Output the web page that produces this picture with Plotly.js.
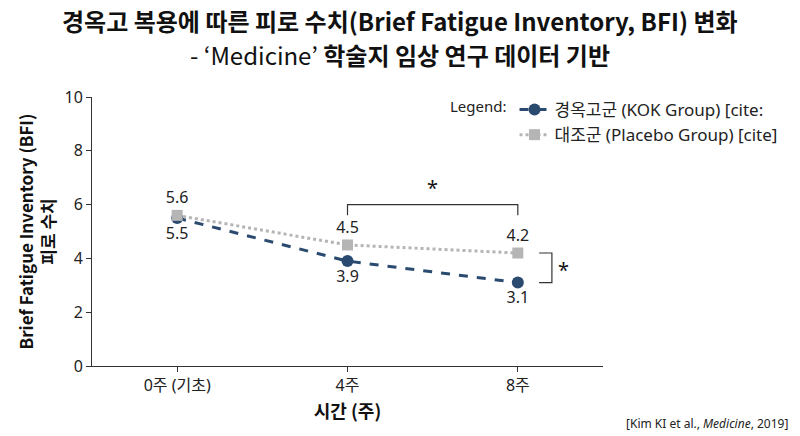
<!DOCTYPE html>
<html>
<head>
<meta charset="utf-8">
<script src="https://cdn.plot.ly/plotly-3.0.1.min.js"></script>
<style>html,body{margin:0;padding:0;background:#fff;}#chart{width:800px;height:436px;}</style>
</head>
<body>
<div id="chart"></div>
<script>
// Data
const weeks = [0, 4, 8];
const tickLabels = ['0주 (기초)', '4주', '8주'];
const kokValues = [5.5, 3.9, 3.1];
const placeboValues = [5.6, 4.5, 4.2];
const kokName = '경옥고군 (KOK Group) [cite:';
const placeboName = '대조군 (Placebo Group) [cite]';
const yTicks = [0, 2, 4, 6, 8, 10];
const titleLine1 = '<b>경옥고 복용에 따른 피로 수치(Brief Fatigue Inventory, BFI) 변화</b>';
const titleLine2 = '- ‘Medicine’<b> 학술지 임상 연구 데이터 기반</b>';
const citation = '[Kim KI et al., <i>Medicine</i>, 2019]';

const FONT = "'Noto Sans', 'Noto Sans CJK KR', sans-serif";
const KOR = "'Noto Sans CJK KR', 'Noto Sans', sans-serif";
const kokColor = '#2b4a6f';
const plaColor = '#b5b5b5';

const traces = [
  {
    x: weeks, y: kokValues, name: kokName, type: 'scatter', mode: 'lines+markers+text',
    line: {color: kokColor, width: 3, dash: 'dash'},
    marker: {color: kokColor, size: 12, symbol: 'circle'},
    text: kokValues.map(v => v.toFixed(1)), textposition: 'bottom center',
    textfont: {family: FONT, size: 16, color: '#222'},
    cliponaxis: false
  },
  {
    x: weeks, y: placeboValues, name: placeboName, type: 'scatter', mode: 'lines+markers+text',
    line: {color: plaColor, width: 3, dash: 'dot'},
    marker: {color: plaColor, size: 11, symbol: 'square'},
    text: placeboValues.map(v => v.toFixed(1)), textposition: 'top center',
    textfont: {family: FONT, size: 16, color: '#222'},
    cliponaxis: false
  }
];

// significance brackets
const topBracketY = [5.6, 6.0];
const sideBracketX = [8.5, 8.8];

const M = {l: 92, r: 197, t: 97, b: 70};
const PW = 800 - M.l - M.r, PH = 436 - M.t - M.b;
const px = X => (X - M.l) / PW;          // container px -> paper x
const py = Y => (436 - M.b - Y) / PH;    // container px -> paper y

const layout = {
  width: 800, height: 436,
  paper_bgcolor: '#fff', plot_bgcolor: '#fff',
  margin: {l: M.l, r: M.r, t: M.t, b: M.b, autoexpand: false},
  font: {family: FONT, size: 15, color: '#222'},
  xaxis: {
    range: [-2, 10], tickmode: 'array', tickvals: weeks, ticktext: tickLabels,
    showgrid: false, zeroline: false, showline: true, linecolor: '#333', linewidth: 1,
    ticks: 'outside', ticklen: 5, tickcolor: '#333',
    tickfont: {family: FONT, size: 16, color: '#222'},
    title: {text: '<b>시간 (주)</b>', font: {family: KOR, size: 18, color: '#111'}, standoff: 10}
  },
  yaxis: {
    range: [0, 10], tickmode: 'array', tickvals: yTicks,
    showgrid: false, zeroline: false, showline: true, linecolor: '#333', linewidth: 1,
    ticks: 'outside', ticklen: 5, tickcolor: '#333',
    tickfont: {family: FONT, size: 16, color: '#222'},
    title: {text: '<b>Brief Fatigue Inventory (BFI)<br>피로 수치</b>', font: {family: KOR, size: 17, color: '#111'}, standoff: 4}
  },
  showlegend: true,
  legend: {
    x: px(448), xref: 'paper', xanchor: 'left',
    y: py(92), yref: 'paper', yanchor: 'top',
    bgcolor: 'rgba(0,0,0,0)', borderwidth: 0,
    font: {family: FONT, size: 17, color: '#222'},
    title: {text: 'Legend:', side: 'left', font: {family: FONT, size: 15, color: '#222'}},
    itemwidth: 30, traceorder: 'normal'
  },
  shapes: [
    {type: 'path', xref: 'x', yref: 'y',
     path: `M ${weeks[1]},${topBracketY[0]} L ${weeks[1]},${topBracketY[1]} L ${weeks[2]},${topBracketY[1]} L ${weeks[2]},${topBracketY[0]}`,
     line: {color: '#333', width: 1.2}},
    {type: 'path', xref: 'x', yref: 'y',
     path: `M ${sideBracketX[0]},${placeboValues[2]} L ${sideBracketX[1]},${placeboValues[2]} L ${sideBracketX[1]},${kokValues[2]} L ${sideBracketX[0]},${kokValues[2]}`,
     line: {color: '#333', width: 1.2}}
  ],
  annotations: [
    {x: (weeks[1] + weeks[2]) / 2, y: topBracketY[1], xref: 'x', yref: 'y', text: '*', showarrow: false,
     yanchor: 'bottom', yshift: 2, font: {family: FONT, size: 20, color: '#111'}},
    {x: sideBracketX[1], y: (placeboValues[2] + kokValues[2]) / 2, xref: 'x', yref: 'y', text: '*', showarrow: false,
     xanchor: 'left', xshift: 4, yshift: -2, font: {family: FONT, size: 20, color: '#111'}},
    {x: px(790), y: py(423), xref: 'paper', yref: 'paper', text: citation,
     showarrow: false, xanchor: 'right', yanchor: 'middle', font: {family: FONT, size: 12, color: '#222'}},
    {x: px(400), y: py(20), xref: 'paper', yref: 'paper', text: titleLine1,
     showarrow: false, xanchor: 'center', yanchor: 'middle', borderpad: 0, font: {family: KOR, size: 24, color: '#111'}},
    {x: px(400), y: py(54), xref: 'paper', yref: 'paper', text: titleLine2,
     showarrow: false, xanchor: 'center', yanchor: 'middle', borderpad: 0, font: {family: KOR, size: 24, color: '#111'}}
  ]
};

Plotly.newPlot('chart', traces, layout, {displayModeBar: false, responsive: false});
</script>
</body>
</html>
